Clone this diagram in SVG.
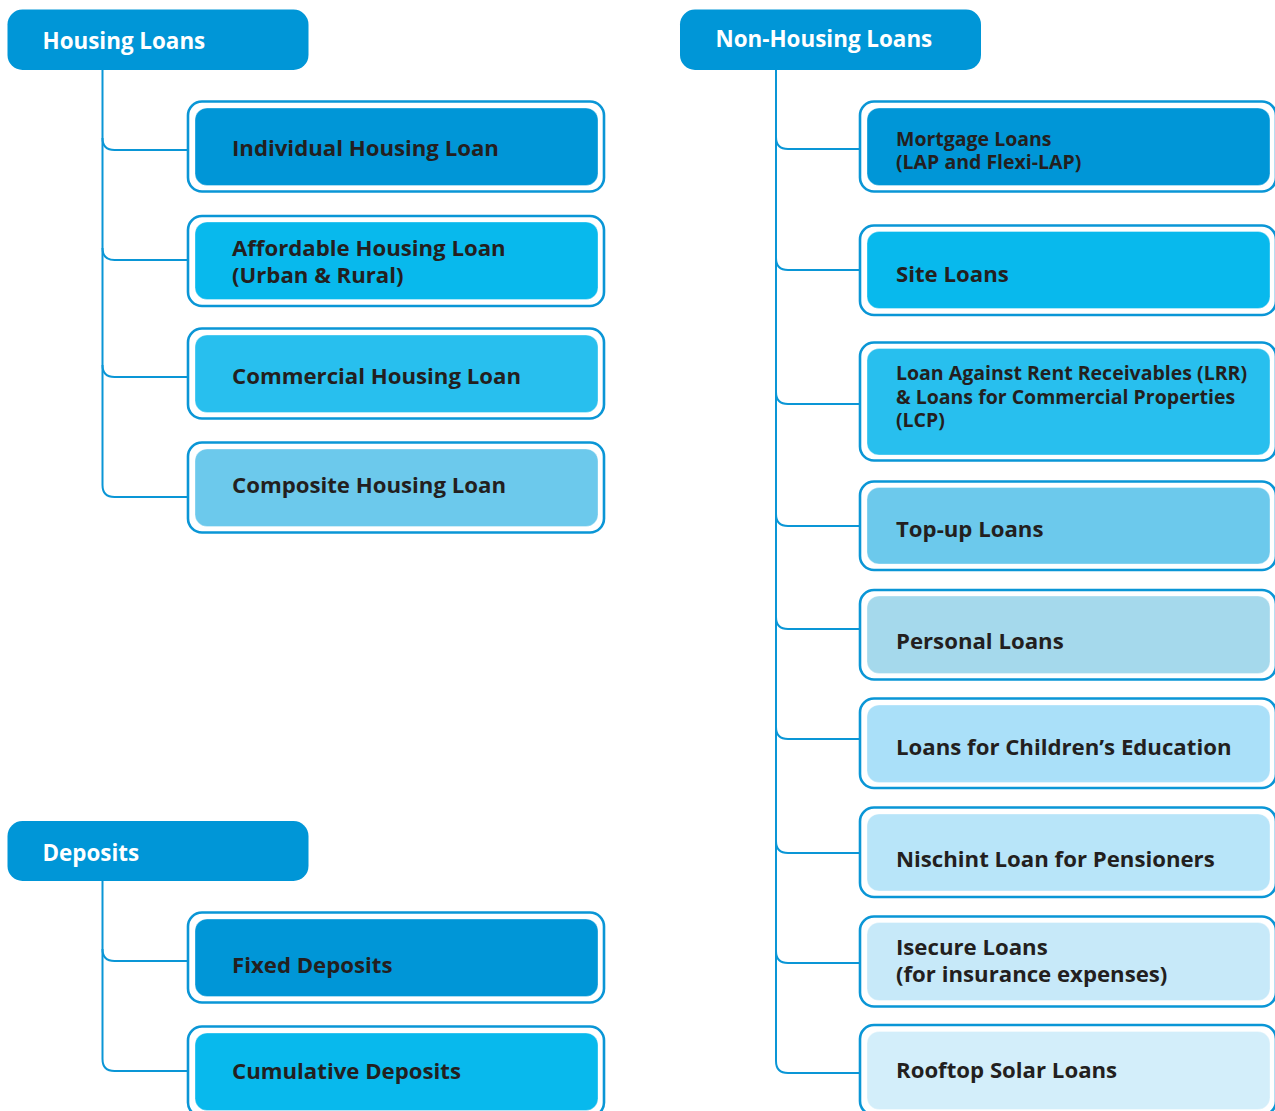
<svg xmlns="http://www.w3.org/2000/svg" width="1275" height="1111" viewBox="0 0 1275 1111">
<style>
.hdr{fill:#0096d7}
.hdrt{font-family:"Open Sans","Noto Sans",sans-serif;font-weight:700;font-size:22.4px;fill:#ffffff}
.outer{fill:#ffffff;stroke:#0a96d6;stroke-width:2.6}
.inner{stroke:#ffffff;stroke-opacity:0.35;stroke-width:1}
.t{font-family:"Open Sans","Noto Sans",sans-serif;font-weight:700;font-size:22.2px;fill:#231f20}
.ts{font-family:"Open Sans","Noto Sans",sans-serif;font-weight:700;font-size:19.5px;fill:#231f20}
.c{fill:none;stroke:#0a96d6;stroke-width:2}
</style>
<g id="connectors">
<path class="c" d="M102.5 70 V485 Q102.5 497 114.5 497 H188"/>
<path class="c" d="M102.5 138 Q102.5 150 114.5 150 H188"/>
<path class="c" d="M102.5 248 Q102.5 260 114.5 260 H188"/>
<path class="c" d="M102.5 365 Q102.5 377 114.5 377 H188"/>
<path class="c" d="M776 70 V1061 Q776 1073 788 1073 H860"/>
<path class="c" d="M776 137 Q776 149 788 149 H860"/>
<path class="c" d="M776 258 Q776 270 788 270 H860"/>
<path class="c" d="M776 392 Q776 404 788 404 H860"/>
<path class="c" d="M776 514 Q776 526 788 526 H860"/>
<path class="c" d="M776 617 Q776 629 788 629 H860"/>
<path class="c" d="M776 727 Q776 739 788 739 H860"/>
<path class="c" d="M776 841 Q776 853 788 853 H860"/>
<path class="c" d="M776 951 Q776 963 788 963 H860"/>
<path class="c" d="M102.5 881 V1059 Q102.5 1071 114.5 1071 H188"/>
<path class="c" d="M102.5 949 Q102.5 961 114.5 961 H188"/>
</g>
<g id="housing-loans">
<rect class="hdr" x="7.5" y="9.5" width="301" height="60.5" rx="15"/>
<text class="hdrt" x="42.5" y="49">Housing Loans</text>
</g>
<g id="individual-housing-loan">
<rect class="outer" x="188" y="101.5" width="416" height="90" rx="14"/>
<rect class="inner" x="195" y="108" width="403" height="77.5" rx="12" fill="#0096d7"/>
<text class="t" x="232" y="156">Individual Housing Loan</text>
</g>
<g id="affordable-housing-loan">
<rect class="outer" x="188" y="216" width="416" height="90" rx="14"/>
<rect class="inner" x="195" y="222" width="403" height="77.5" rx="12" fill="#08b9ed"/>
<text class="t" x="232" y="256">Affordable Housing Loan</text>
<text class="t" x="232" y="282.5">(Urban &amp; Rural)</text>
</g>
<g id="commercial-housing-loan">
<rect class="outer" x="188" y="328.5" width="416" height="90" rx="14"/>
<rect class="inner" x="195" y="335" width="403" height="77.5" rx="12" fill="#28bfee"/>
<text class="t" x="232" y="384">Commercial Housing Loan</text>
</g>
<g id="composite-housing-loan">
<rect class="outer" x="188" y="442.5" width="416" height="90" rx="14"/>
<rect class="inner" x="195" y="449" width="403" height="77.5" rx="12" fill="#6cc9ec"/>
<text class="t" x="232" y="493">Composite Housing Loan</text>
</g>
<g id="non-housing-loans">
<rect class="hdr" x="680" y="9.5" width="301" height="60.5" rx="15"/>
<text class="hdrt" x="715.5" y="47">Non-Housing Loans</text>
</g>
<g id="mortgage-loans">
<rect class="outer" x="860" y="101.5" width="416" height="90" rx="14"/>
<rect class="inner" x="867" y="108" width="403" height="77.5" rx="12" fill="#0096d7"/>
<text class="ts" x="896" y="145.5">Mortgage Loans</text>
<text class="ts" x="896" y="169">(LAP and Flexi-LAP)</text>
</g>
<g id="site-loans">
<rect class="outer" x="860" y="225.5" width="416" height="89.5" rx="14"/>
<rect class="inner" x="867" y="231.5" width="403" height="77" rx="12" fill="#08b9ed"/>
<text class="t" x="896" y="282">Site Loans</text>
</g>
<g id="lrr-lcp-loans">
<rect class="outer" x="860" y="342.5" width="416" height="118" rx="14"/>
<rect class="inner" x="867" y="348.5" width="403" height="106.5" rx="12" fill="#28bfee"/>
<text class="ts" x="896" y="380">Loan Against Rent Receivables (LRR)</text>
<text class="ts" x="896" y="403.5">&amp; Loans for Commercial Properties</text>
<text class="ts" x="896" y="427">(LCP)</text>
</g>
<g id="top-up-loans">
<rect class="outer" x="860" y="481.5" width="416" height="88.5" rx="14"/>
<rect class="inner" x="867" y="487.5" width="403" height="76.5" rx="12" fill="#6cc9ec"/>
<text class="t" x="896" y="537">Top-up Loans</text>
</g>
<g id="personal-loans">
<rect class="outer" x="860" y="590" width="416" height="89.5" rx="14"/>
<rect class="inner" x="867" y="596" width="403" height="77.5" rx="12" fill="#a5d9ec"/>
<text class="t" x="896" y="649">Personal Loans</text>
</g>
<g id="childrens-education-loans">
<rect class="outer" x="860" y="698.5" width="416" height="89.5" rx="14"/>
<rect class="inner" x="867" y="705" width="403" height="77.5" rx="12" fill="#aae0f9"/>
<text class="t" x="896" y="755">Loans for Children’s Education</text>
</g>
<g id="nischint-loan">
<rect class="outer" x="860" y="807.5" width="416" height="89.5" rx="14"/>
<rect class="inner" x="867" y="814" width="403" height="77" rx="12" fill="#b8e5f9"/>
<text class="t" x="896" y="867">Nischint Loan for Pensioners</text>
</g>
<g id="isecure-loans">
<rect class="outer" x="860" y="916.5" width="416" height="90" rx="14"/>
<rect class="inner" x="867" y="922.5" width="403" height="78" rx="12" fill="#c7e9f9"/>
<text class="t" x="896" y="954.5">Isecure Loans</text>
<text class="t" x="896" y="982">(for insurance expenses)</text>
</g>
<g id="rooftop-solar-loans">
<rect class="outer" x="860" y="1025" width="416" height="90" rx="14"/>
<rect class="inner" x="867" y="1031.5" width="403" height="78" rx="12" fill="#d3eefa"/>
<text class="t" x="896" y="1077.5">Rooftop Solar Loans</text>
</g>
<g id="deposits">
<rect class="hdr" x="7.5" y="821" width="301" height="60" rx="15"/>
<text class="hdrt" x="42.5" y="861">Deposits</text>
</g>
<g id="fixed-deposits">
<rect class="outer" x="188" y="912.5" width="416" height="90" rx="14"/>
<rect class="inner" x="195" y="919" width="403" height="77.5" rx="12" fill="#0096d7"/>
<text class="t" x="232" y="973">Fixed Deposits</text>
</g>
<g id="cumulative-deposits">
<rect class="outer" x="188" y="1026.5" width="416" height="90" rx="14"/>
<rect class="inner" x="195" y="1033" width="403" height="77.5" rx="12" fill="#08b9ed"/>
<text class="t" x="232" y="1079">Cumulative Deposits</text>
</g>
</svg>
